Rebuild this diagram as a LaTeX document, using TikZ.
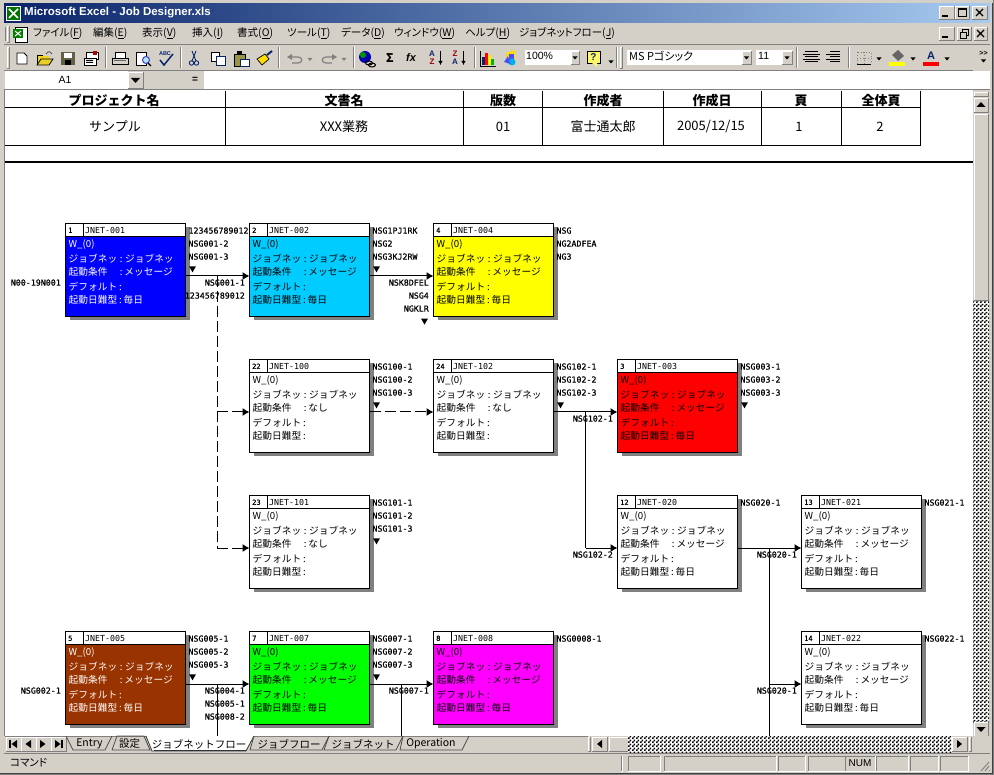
\documentclass[tikz,border=0pt]{standalone}
\usepackage{fontspec}
\setmainfont{Noto Sans CJK JP}
\newfontfamily\jp{Noto Sans CJK JP}
\newfontfamily\jpp[RawFeature=+palt]{Noto Sans CJK JP}
\newfontfamily\lbl[FakeBold=0.6]{DejaVu Sans Mono}
\newfontfamily\lbt{DejaVu Sans Mono}
\newfontfamily\ui{Liberation Sans}
\usetikzlibrary{arrows.meta,patterns}
\pgfdeclarepatternformonly{chk}{\pgfqpoint{0pt}{0pt}}{\pgfqpoint{4pt}{4pt}}{\pgfqpoint{4pt}{4pt}}{%
  \pgfpathrectangle{\pgfqpoint{0pt}{0pt}}{\pgfqpoint{2pt}{2pt}}%
  \pgfpathrectangle{\pgfqpoint{2pt}{2pt}}{\pgfqpoint{2pt}{2pt}}%
  \pgfusepath{fill}}
\definecolor{face}{HTML}{D4D0C8}
\definecolor{dk}{HTML}{808080}
\definecolor{hl}{HTML}{FFFFFF}
\definecolor{nav}{HTML}{0A246A}
\definecolor{sky}{HTML}{A6CAF0}
\definecolor{brownbox}{HTML}{993300}
\definecolor{cyanbox}{HTML}{00CCFF}
\definecolor{magbox}{HTML}{FF00FF}
\definecolor{yelbox}{HTML}{FFFF00}
\definecolor{redbox}{HTML}{FF0000}
\definecolor{greenbox}{HTML}{00FF00}
\definecolor{bluebox}{HTML}{0000FF}
\newcounter{labn}
\tikzset{
  x=1pt,y=-1pt,
  jbody/.style={draw=black,line width=1pt,anchor=north west,minimum width=120pt,minimum height=93pt,inner sep=0pt,outer sep=0pt},
  jhead/.style={draw=black,line width=1pt,fill=white,anchor=north west,minimum height=13pt,inner sep=0pt,outer sep=0pt},
  jtxt/.style={anchor=west,inner sep=0pt,font=\jp\fontsize{9.7}{10}\selectfont},
  lab/.style={inner sep=0pt,font=\lbl\fontsize{8.3}{8.3}\selectfont,text=black},
  conn/.style={line width=1pt,draw=black},
  arr/.style={conn,-{Latex[length=7pt,width=8pt]}},
  dashc/.style={conn,dash pattern=on 11pt off 4pt},
  hdr/.style={inner sep=0pt,font=\jp\bfseries\fontsize{13}{13}\selectfont,text=black},
  cell/.style={inner sep=0pt,font=\jp\fontsize{13}{13}\selectfont,text=black},
  menu/.style={inner sep=0pt,anchor=west,font=\jpp\fontsize{10.5}{10.5}\selectfont,text=black},
  tabtxt/.style={inner sep=0pt,font=\jp\fontsize{10.5}{11}\selectfont,text=black},
  dither/.style={fill=white,postaction={pattern=chk,pattern color=black}},
}
% name, x, y, id, title, fill, text colour, condition, day
\newcommand{\jobbox}[9]{%
  \fill[dk] (#2+4,#3+4) rectangle ++(120,93);
  \node[jbody,fill=#6] (#1) at (#2,#3) {};
  \node[jhead,minimum width=17.5pt] (#1-id) at (#2,#3) {};
  \node[jhead,minimum width=102.5pt] (#1-title) at (#2+17.5,#3) {};
  \node[lab,anchor=west,font=\lbl\fontsize{7}{7}\selectfont] (#1-idt) at (#2+2.5,#3+7) {#4};
  \node[lab,anchor=west,font=\lbt\fontsize{8.3}{8.3}\selectfont] (#1-tt) at (#2+19.5,#3+7) {#5};
  \node[jtxt,text=#7] (#1-l1) at (#2+3,#3+21) {W\_(0)};
  \node[jtxt,text=#7] (#1-l2) at (#2+3,#3+35.7) {ジョブネッ\hbox to 8pt{\hss:\hss}ジョブネッ};
  \node[jtxt,text=#7] (#1-l3) at (#2+3,#3+49) {起動条件\hbox to 17pt{\hfil:\kern2pt}#8};
  \node[jtxt,text=#7] (#1-l4) at (#2+3,#3+63.7) {デフォルト\hbox to 6.5pt{\hss:\hss}};
  \node[jtxt,text=#7] (#1-l5) at (#2+3,#3+77) {起動日難型\hbox to 6.5pt{\hss:\hss}#9};
  \coordinate (#1-in) at (#2,#3+52.7);
  \coordinate (#1-out) at (#2+120,#3+52.7);
}
\newcommand{\rilab}[3]{\stepcounter{labn}\node[lab,anchor=west] (lab\thelabn) at (#1,#2) {#3};}
\newcommand{\lelab}[3]{\stepcounter{labn}\node[lab,anchor=east] (lab\thelabn) at (#1,#2) {#3};}
\newcommand{\rthree}[5]{\rilab{#1+122.8}{#2+7.3}{#3}\rilab{#1+122.8}{#2+20.3}{#4}\rilab{#1+122.8}{#2+33.3}{#5}}
\newcommand{\dtri}[2]{\fill[black] (#1-3.5,#2-3) -- (#1+3.5,#2-3) -- (#1,#2+3) -- cycle;}
\newcommand{\rtri}[2]{\dtri{#1+127}{#2+46}}
\newcommand{\btn}[4]{\fill[face] (#1,#2) rectangle (#3,#4);
  \draw[hl,line width=.8pt] (#1,#4) -- (#1,#2) -- (#3,#2);
  \draw[dk,line width=.8pt] (#1,#4) -- (#3,#4) -- (#3,#2);}
\newcommand{\sunk}[4]{\draw[dk,line width=.7pt] (#3,#2) -- (#1,#2) -- (#1,#4);
  \draw[hl,line width=.7pt] (#1,#4) -- (#3,#4) -- (#3,#2);}
\newcommand{\tbsep}[1]{\draw[dk,line width=.7pt] (#1,47) -- (#1,68);\draw[hl,line width=.7pt] (#1+1,47) -- (#1+1,68);}
\newcommand{\smarrow}[2]{\fill[black] (#1-2.5,#2-1.5) -- (#1+2.5,#2-1.5) -- (#1,#2+1.5) -- cycle;}
\begin{document}
\begin{tikzpicture}[x=1pt,y=-1pt]
\useasboundingbox (0,0) rectangle (994,775);
% window
\fill[face] (0,0) rectangle (994,775);
\draw[dk,line width=1pt] (993.5,0) -- (993.5,774.5) -- (0,774.5);
\draw[black!75,line width=1pt] (992.5,3) -- (992.5,773.5) -- (0,773.5);
% sheet
\fill[white] (5,90) rectangle (973,736);
\draw[dk,line width=1pt] (4.5,90) -- (4.5,736);
% --- Diagram ---
\begin{scope}
\clip (5,90) rectangle (973,736);
% header table
\foreach \xx in {225.5,463.5,542.5,663.5,761.5,841.5,920.5} \draw[black,line width=1pt] (\xx,91) -- (\xx,145.5);
\draw[black,line width=1pt] (5,107.5) -- (920.5,107.5);
\draw[black,line width=1pt] (5,145.5) -- (920.5,145.5);
\draw[black,line width=2pt] (5,162) -- (973,162);
\begin{scope}
\clip (5,91) rectangle (973,107);
\node[hdr] (h1) at (114,100.5) {プロジェクト名};
\node[hdr] (h2) at (344,100.5) {文書名};
\node[hdr] (h3) at (503,100.5) {版数};
\node[hdr] (h4) at (603,100.5) {作成者};
\node[hdr] (h5) at (712,100.5) {作成日};
\node[hdr] (h6) at (801,100.5) {頁};
\node[hdr] (h7) at (881,100.5) {全体頁};
\end{scope}
\node[cell] (c1) at (115,126.5) {サンプル};
\node[cell] (c2) at (344,126.5) {XXX業務};
\node[cell] (c3) at (503,126.5) {01};
\node[cell] (c4) at (603,126.5) {富士通太郎};
\node[cell] (c5) at (711,126.5) {2005/12/15};
\node[cell] (c6) at (799,126.5) {1};
\node[cell] (c7) at (880,126.5) {2};
% job boxes
\jobbox{n001}{65.5}{223.3}{1}{JNET-001}{bluebox}{white}{メッセージ}{毎日}
\jobbox{n002}{249.5}{223.3}{2}{JNET-002}{cyanbox}{black}{メッセージ}{毎日}
\jobbox{n004}{433.5}{223.3}{4}{JNET-004}{yelbox}{black}{メッセージ}{毎日}
\jobbox{n100}{249.5}{359.3}{22}{JNET-100}{white}{black}{なし}{}
\jobbox{n102}{433.5}{359.3}{24}{JNET-102}{white}{black}{なし}{}
\jobbox{n003}{617.5}{359.3}{3}{JNET-003}{redbox}{black}{メッセージ}{毎日}
\jobbox{n101}{249.5}{495.3}{23}{JNET-101}{white}{black}{なし}{}
\jobbox{n020}{617.5}{495.3}{12}{JNET-020}{white}{black}{メッセージ}{毎日}
\jobbox{n021}{801.5}{495.3}{13}{JNET-021}{white}{black}{メッセージ}{毎日}
\jobbox{n005}{65.5}{631.3}{5}{JNET-005}{brownbox}{white}{メッセージ}{毎日}
\jobbox{n007}{249.5}{631.3}{7}{JNET-007}{greenbox}{black}{メッセージ}{毎日}
\jobbox{n008}{433.5}{631.3}{8}{JNET-008}{magbox}{black}{メッセージ}{毎日}
\jobbox{n022}{801.5}{631.3}{14}{JNET-022}{white}{black}{メッセージ}{毎日}
% branch coordinates
\coordinate (b1) at (217.3,276);
\coordinate (b3) at (217.3,412);
\coordinate (b4) at (217.3,548);
\coordinate (b5) at (585.7,412);
\coordinate (b6) at (585.7,548);
\coordinate (b7) at (769.5,548);
\coordinate (b8) at (769.5,684);
\coordinate (b9) at (769.5,736);
\coordinate (b10) at (217.3,684);
\coordinate (b11) at (217.3,736);
\coordinate (b12) at (401.3,684);
\coordinate (b13) at (401.3,736);
% connectors
\draw[arr] (n001-out) -- (n002-in);
\draw[arr] (n002-out) -- (n004-in);
\draw[dashc] (b1) -- (b4);
\draw[dashc,-{Latex[length=7pt,width=8pt]}] (b3) -- (n100-in);
\draw[dashc,-{Latex[length=7pt,width=8pt]}] (b4) -- (n101-in);
\draw[dashc,-{Latex[length=7pt,width=8pt]}] (n100-out) -- (n102-in);
\draw[arr] (n102-out) -- (n003-in);
\draw[conn] (b5) -- (b6);
\draw[arr] (b6) -- (n020-in);
\draw[arr] (n020-out) -- (n021-in);
\draw[conn] (b7) -- (b9);
\draw[arr] (b8) -- (n022-in);
\draw[arr] (n005-out) -- (n007-in);
\draw[conn] (b10) -- (b11);
\draw[arr] (n007-out) -- (n008-in);
\draw[conn] (b12) -- (b13);
% labels
\rthree{65.5}{223.3}{123456789012}{NSG001-2}{NSG001-3}\rtri{65.5}{223.3}
\lelab{61}{282.6}{N00-19N001}
\lelab{245}{282.6}{NSG001-1}
\lelab{245}{295.6}{123456789012}
\rthree{249.5}{223.3}{NSG1PJ1RK}{NSG2}{NSG3KJ2RW}\rtri{249.5}{223.3}
\lelab{429}{282.6}{NSK8DFEL}
\lelab{429}{295.6}{NSG4}
\lelab{429}{308.6}{NGKLR}
\dtri{424.5}{321.6}
\rthree{433.5}{223.3}{NSG}{NG2ADFEA}{NG3}
\rthree{249.5}{359.3}{NSG100-1}{NSG100-2}{NSG100-3}\rtri{249.5}{359.3}
\rthree{433.5}{359.3}{NSG102-1}{NSG102-2}{NSG102-3}\rtri{433.5}{359.3}
\rthree{617.5}{359.3}{NSG003-1}{NSG003-2}{NSG003-3}\rtri{617.5}{359.3}
\lelab{613}{418.6}{NSG102-1}
\rthree{249.5}{495.3}{NSG101-1}{NSG101-2}{NSG101-3}\rtri{249.5}{495.3}
\lelab{613}{554.6}{NSG102-2}
\rilab{740.3}{502.6}{NSG020-1}
\lelab{797}{554.6}{NSG020-1}
\rilab{924.3}{502.6}{NSG021-1}
\rthree{65.5}{631.3}{NSG005-1}{NSG005-2}{NSG005-3}\rtri{65.5}{631.3}
\lelab{61}{690.6}{NSG002-1}
\lelab{245}{690.6}{NSG004-1}
\lelab{245}{703.6}{NSG005-1}
\lelab{245}{716.6}{NSG008-2}
\rthree{249.5}{631.3}{NSG007-1}{NSG007-2}{NSG007-3}\rtri{249.5}{631.3}
\lelab{429}{690.6}{NSG007-1}
\rilab{556.3}{638.6}{NSG0008-1}
\lelab{797}{690.6}{NSG020-1}
\rilab{924.3}{638.6}{NSG022-1}
\end{scope}
% --- Title bar ---
\shade[left color=nav,right color=sky] (4,4) rectangle (990,22.5);
\fill[white] (6,6) rectangle (21,21);
\fill[green!45!black] (7,7) rectangle (20,20);
\draw[white,line width=1.6pt] (9,9) -- (18,18) (18,9) -- (9,18);
\node[inner sep=0pt,anchor=west,text=white,font=\ui\bfseries\fontsize{11.5}{11.5}\selectfont] (title) at (24,13) {Microsoft Excel - Job Designer.xls};
\btn{939}{6}{954}{19}\btn{955}{6}{969}{19}\btn{972}{6}{987}{19}
\draw[black,line width=1.4pt] (942,16) -- (948,16);
\draw[black,line width=1pt] (958,8.5) rectangle (966,16.5);\draw[black,line width=1.5pt] (958,9) -- (966,9);
\draw[black,line width=1.3pt] (976,9) -- (983,16) (983,9) -- (976,16);
% --- Menu bar ---
\draw[dk,line width=.7pt] (5,27) -- (5,41);\btn{7}{26}{9}{42}
\fill[white] (15,27) rectangle (27,42);\draw[black,line width=.7pt] (15,27) rectangle (27,42);
\fill[green!50!black] (13,29) rectangle (23,38);\draw[white,line width=1pt] (15,31) -- (21,36) (21,31) -- (15,36);
\node[menu] (m1) at (33,33.5) {ファイル(\underline{F})};
\node[menu] (m2) at (93,33.5) {編集(\underline{E})};
\node[menu] (m3) at (142,33.5) {表示(\underline{V})};
\node[menu] (m4) at (192,33.5) {挿入(\underline{I})};
\node[menu] (m5) at (237,33.5) {書式(\underline{O})};
\node[menu] (m6) at (287,33.5) {ツール(\underline{T})};
\node[menu] (m7) at (341,33.5) {データ(\underline{D})};
\node[menu] (m8) at (394,33.5) {ウィンドウ(\underline{W})};
\node[menu] (m9) at (465,33.5) {ヘルプ(\underline{H})};
\node[menu] (m10) at (519,33.5) {ジョブネットフロー(\underline{J})};
\btn{939}{27}{954}{40}\btn{957}{27}{971}{40}\btn{974}{27}{987}{40}
\draw[black,line width=1.4pt] (942,37) -- (948,37);
\draw[black,line width=.9pt] (960,32) rectangle (966,38);\draw[black,line width=.9pt] (962,32) -- (962,29.5) -- (968,29.5) -- (968,35) -- (966,35);
\draw[black,line width=1.3pt] (977,30) -- (984,37) (984,30) -- (977,37);
\draw[hl,line width=.7pt] (4,44) -- (990,44);\draw[dk,line width=.7pt] (4,44.8) -- (990,44.8);
% --- Toolbar ---
\btn{7}{47}{9}{68}
\tbsep{105}\tbsep{180}\tbsep{278}\tbsep{353}\tbsep{474}\tbsep{616}\tbsep{796}\tbsep{848}
\btn{620}{47}{622}{68}
\draw[dk,line width=.7pt] (4,70) -- (973,70);
% new
\draw[black,fill=white,line width=.8pt] (17,53) -- (24,53) -- (27,56) -- (27,64) -- (17,64) -- cycle;
% open
\fill[yellow!70!brown] (37,56) rectangle (49,65);\draw[black,line width=.8pt] (37,65) -- (37,55) -- (43,55);
\draw[black,fill=yellow!65!brown,line width=.8pt] (37,65) -- (41,59) -- (53,59) -- (49,65) -- cycle;
\draw[black!70,line width=.8pt] (46,54) .. controls (48,51) and (50,51) .. (52,54);
% save
\fill[black!70!yellow] (61,52) rectangle (75,65);\fill[white] (64,53) rectangle (72,58);\fill[black] (65,60) rectangle (71,65);
% mail
\draw[black,fill=white,line width=.8pt] (86,52) -- (98,52) -- (98,59) -- (86,59) -- cycle;
\draw[black,fill=white,line width=.8pt] (84,58) rectangle (96,65);\fill[red!70!black] (93,51) rectangle (97,55);\fill[black] (86,60) rectangle (93,61) (86,62) rectangle (93,63);
% print
\draw[black,fill=white,line width=.8pt] (115,52) rectangle (125,58);
\draw[black,fill=face,line width=.8pt] (112,58) rectangle (128,64);\fill[black!60] (114,60) rectangle (126,61);
% preview
\draw[black,fill=white,line width=.8pt] (136,52) rectangle (146,65);
\draw[dk!50!blue,fill=cyan!30,line width=1pt] (146,60) circle (3.5);\draw[black,line width=1.3pt] (148,63) -- (151,66);
% spell
\node[inner sep=0pt,font=\ui\bfseries\fontsize{5.5}{5.5}\selectfont,text=nav] (abc) at (165,54) {ABC};
\draw[nav,line width=1.5pt] (160,60) -- (164,65) -- (173,54);
% cut
\draw[nav,line width=.9pt] (192,51) -- (196,61) (196,51) -- (192,61);
\draw[nav,line width=.9pt] (191.5,63) circle (2.2) (196.5,63) circle (2.2);
% copy
\draw[black,fill=white,line width=.8pt] (211,52) rectangle (219,61);\draw[nav,fill=white,line width=.8pt] (216,56) rectangle (225,65);
% paste
\draw[black,fill=black!45!yellow,line width=.8pt] (234,54) rectangle (245,66);\fill[black] (237,51.5) rectangle (242,55);
\draw[nav,fill=white,line width=.8pt] (240,59) rectangle (249,66);
% painter
\fill[yellow!80!orange] (257,59) -- (265,54) -- (269,59) -- (262,65) -- cycle;
\draw[black,line width=.7pt] (257,59) -- (265,54) -- (269,59) -- (262,65) -- cycle;
\draw[nav,line width=2pt] (267,55) -- (272,51);
% undo / redo greyed
\draw[dk,line width=1.2pt] (288,57) -- (298,57) .. controls (303,57) and (303,63) .. (298,63) -- (292,63);\fill[dk] (287,57) -- (292,54) -- (292,60) -- cycle;
\fill[dk] (307.5,58) -- (312.5,58) -- (310,61) -- cycle;
\draw[dk,line width=1.2pt] (336,57) -- (326,57) .. controls (321,57) and (321,63) .. (326,63) -- (332,63);\fill[dk] (337,57) -- (332,54) -- (332,60) -- cycle;
\fill[dk] (341.5,58) -- (346.5,58) -- (344,61) -- cycle;
% globe
\fill[blue!70!black] (365,57) circle (6);\fill[green!60!black] (363,55) circle (3);
\draw[black,line width=1pt] (369,63) ellipse (3.5 and 2);\draw[black,line width=1pt] (372,65) ellipse (3.5 and 2);
% sum, fx
\node[inner sep=0pt,font=\jp\bfseries\fontsize{12}{12}\selectfont,text=black] (sum) at (390,58) {Σ};
\node[inner sep=0pt,font=\ui\bfseries\itshape\fontsize{11}{11}\selectfont,text=black] (fx) at (411,58) {fx};
% sort
\node[inner sep=0pt,font=\ui\bfseries\fontsize{8}{8}\selectfont,text=nav] (sa) at (432,54) {A};
\node[inner sep=0pt,font=\ui\bfseries\fontsize{8}{8}\selectfont,text=red!60!black] (sz) at (432,62) {Z};
\draw[black,line width=.8pt,-{Latex[length=4pt,width=4.5pt]}] (440.5,51) -- (440.5,65);
\node[inner sep=0pt,font=\ui\bfseries\fontsize{8}{8}\selectfont,text=red!60!black] (sz2) at (455,54) {Z};
\node[inner sep=0pt,font=\ui\bfseries\fontsize{8}{8}\selectfont,text=nav] (sa2) at (455,62) {A};
\draw[black,line width=.8pt,-{Latex[length=4pt,width=4.5pt]}] (463.5,51) -- (463.5,65);
% chart
\fill[nav] (482,57) rectangle (485,65);\fill[red] (485,53) rectangle (488,65);\fill[yellow] (488,55) rectangle (491,65);\fill[green!70!black] (491,59) rectangle (494,65);
\draw[black,line width=.8pt] (480,51) -- (480,66) -- (496,66);
% drawing
\fill[yellow!80!orange] (506,53) -- (515,50) -- (515,60) -- (506,60) -- cycle;\fill[blue!70] (509,54) rectangle (514,60);\fill[cyan] (512,62) circle (3.5);\fill[blue!70] (504,62) -- (508,56) -- (510,64) -- cycle;
% zoom box
\fill[white] (525,50) rectangle (580,65);\btn{571}{51}{579}{64}\smarrow{575}{58}
\node[inner sep=0pt,anchor=west,font=\ui\fontsize{10.5}{10.5}\selectfont,text=black] (zm) at (526,56) {100\%};
% help
\draw[black,fill=yellow!60!white,line width=.8pt] (587,51) rectangle (600,63);
\fill[yellow!60!white] (592,63) -- (597,63) -- (597,67) -- cycle;
\node[inner sep=0pt,font=\ui\bfseries\fontsize{10}{10}\selectfont,text=nav] (hp) at (593.5,57) {?};
\smarrow{611}{62}
% font box
\fill[white] (627,50) rectangle (752,65);\btn{742}{51}{751}{64}\smarrow{746.5}{58}
\node[inner sep=0pt,anchor=west,font=\jpp\fontsize{11}{11}\selectfont,text=black] (fn) at (629,56.5) {MS Pゴシック};
\fill[white] (756,50) rectangle (793,65);\btn{782}{51}{792}{64}\smarrow{787}{58}
\node[inner sep=0pt,anchor=west,font=\ui\fontsize{10.5}{10.5}\selectfont,text=black] (fs) at (758,56) {11};
% align
\foreach \yy/\a/\b in {51.5/805/818,54/803/820,56.5/805/818,59/803/820,61.5/805/818} \draw[black,line width=.8pt] (\a,\yy) -- (\b,\yy);
\foreach \yy/\a in {51.5/830,54/826,56.5/830,59/826,61.5/830} \draw[black,line width=.8pt] (\a,\yy) -- (840,\yy);
% borders
\draw[dk,dotted,line width=.8pt] (857,52) rectangle (871,64) (857,58) -- (871,58) (864,52) -- (864,64);
\draw[black,line width=.8pt] (857,64.5) -- (871,64.5);\smarrow{879}{59}
% fill
\fill[yelbox] (889,62) rectangle (905,66);\fill[black!60] (892,55) -- (898,50) -- (904,56) -- (898,61) -- cycle;\smarrow{913}{59}
% font colour
\fill[redbox] (923,62) rectangle (939,66);
\node[inner sep=0pt,font=\ui\bfseries\fontsize{11}{11}\selectfont,text=nav] (fa) at (931,56) {A};\smarrow{947}{59}
\node[inner sep=0pt,font=\ui\bfseries\fontsize{7}{7}\selectfont,text=black] (more) at (983.5,53) {>>};\smarrow{983.5}{61}
% --- Formula bar ---
\fill[white] (5,71) rectangle (128,89);
\btn{128}{72}{143}{88}
\fill[black] (131,78) -- (140,78) -- (135.5,83) -- cycle;
\node[inner sep=0pt,font=\ui\fontsize{10.5}{10.5}\selectfont,text=black] (a1) at (65,80) {A1};
\fill[face] (146,71) rectangle (203,89);
\node[inner sep=0pt,font=\ui\bfseries\fontsize{10}{10}\selectfont,text=black] (eq) at (195,80) {=};
\fill[white] (204,71) rectangle (990,89);
\draw[dk,line width=1pt] (4,89.5) -- (990,89.5);
% --- Vertical scroll bar ---
\fill[face] (973,90) rectangle (990,736);
\fill[dither] (973,300) rectangle (989,722);
\btn{974}{92}{988}{96}
\btn{974}{98}{988}{112}
\fill[black] (981,102) -- (985.5,107) -- (976.5,107) -- cycle;
\btn{974}{114}{988}{300}
\btn{974}{722}{988}{736}
\fill[black] (976.5,727) -- (985.5,727) -- (981,732) -- cycle;
% --- Tab bar ---
\fill[face] (5,736) rectangle (990,752);
\draw[dk,line width=.8pt] (5,736.5) -- (588,736.5);
\foreach \xa/\xb in {6/21,21/36,36/51,51/66} {\btn{\xa}{737}{\xb}{751}}
\fill[black] (9,740) rectangle (10.5,748);\fill[black] (17,740) -- (17,748) -- (11.5,744) -- cycle;
\fill[black] (31,740) -- (31,748) -- (25.5,744) -- cycle;
\fill[black] (40,740) -- (40,748) -- (45.5,744) -- cycle;
\fill[black] (55,740) -- (55,748) -- (60.5,744) -- cycle;\fill[black] (61,740) rectangle (62.5,748);
\draw[black!70,line width=.8pt] (66,736) -- (73,750) -- (105,750) -- (112,736);
\draw[black!70,line width=.8pt] (112,750) -- (117,736) -- (144,736) -- (150,750) -- (112,750);
\fill[white] (146,736) -- (152,751) -- (246,751) -- (254,736) -- cycle;
\draw[black!80,line width=.8pt] (146,736) -- (152,751) -- (246,751) -- (254,736);
\draw[black!80,line width=.8pt] (154,750.5) -- (246,750.5);
\draw[black!70,line width=.8pt] (254,736) -- (250,750) -- (322,750) -- (329,736);
\draw[black!70,line width=.8pt] (329,736) -- (324,750) -- (396,750) -- (403,736);
\draw[black!70,line width=.8pt] (403,736) -- (400,750) -- (462,750) -- (469,736);
\node[tabtxt] (t1) at (89.5,744) {Entry};
\node[tabtxt] (t2) at (129.5,744) {設定};
\node[tabtxt] (t3) at (199,744) {ジョブネットフロー};
\node[tabtxt] (t4) at (289,744) {ジョブフロー};
\node[tabtxt] (t5) at (363,744) {ジョブネット};
\node[tabtxt] (t6) at (431,744) {Operation};
% horizontal scroll
\btn{588}{737}{590}{751}
\btn{592}{737}{607}{751}
\fill[black] (602,740) -- (602,748) -- (597,744) -- cycle;
\btn{609}{737}{628}{751}
\fill[dither] (628,736) rectangle (952,752);
\btn{952}{737}{967}{751}
\fill[black] (957,740) -- (957,748) -- (962,744) -- cycle;
\btn{969}{737}{971}{751}
% --- Status bar ---
\node[inner sep=0pt,anchor=west,font=\jpp\fontsize{10.5}{10.5}\selectfont,text=black] (cmd) at (10,763) {コマンド};
\draw[dk,line width=.7pt] (4,753) -- (990,753);
\sunk{621}{756}{622}{771}
\sunk{628}{756}{660}{771}\sunk{664}{756}{776}{771}\sunk{778}{756}{805}{771}\sunk{808}{756}{845}{771}
\sunk{845}{756}{875}{771}\sunk{876}{756}{908}{771}\sunk{910}{756}{938}{771}\sunk{940}{756}{968}{771}
\node[inner sep=0pt,font=\ui\fontsize{10}{10}\selectfont,text=black] (num) at (860,763.5) {NUM};
\foreach \i in {0,4,8} \draw[dk,line width=.9pt] (989-\i,771) -- (989,771-\i-1);
\end{tikzpicture}
\end{document}
